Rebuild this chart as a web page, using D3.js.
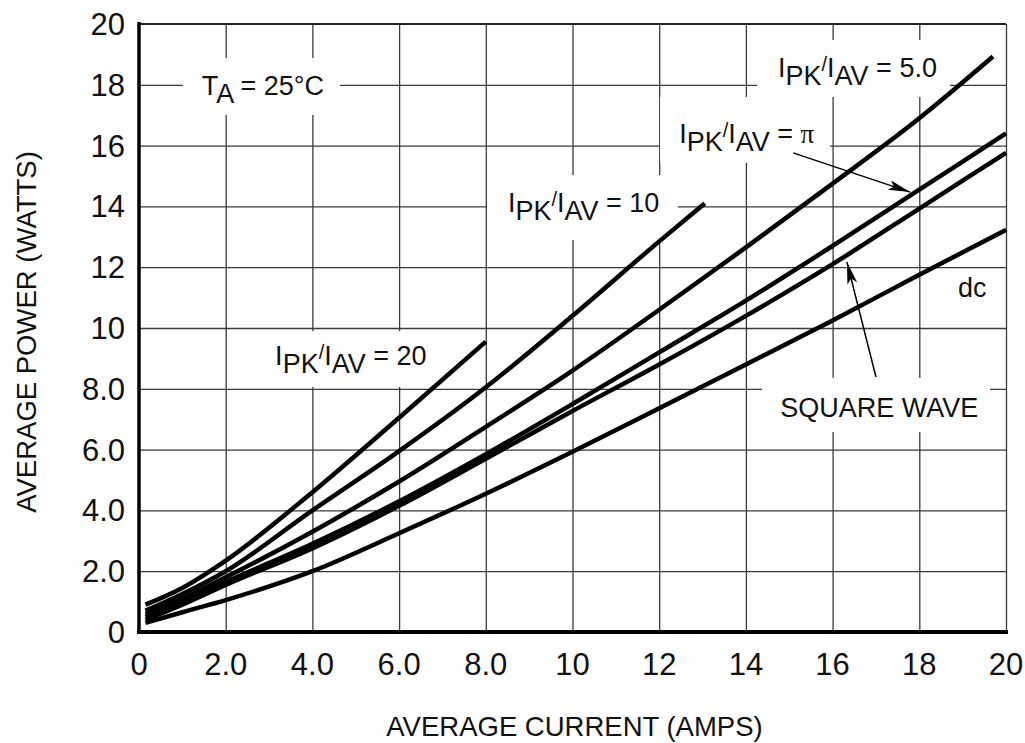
<!DOCTYPE html>
<html>
<head>
<meta charset="utf-8">
<script src="https://cdn.jsdelivr.net/npm/d3@7"></script>
<style>
  body { margin: 0; background: #fff; }
  text { font-family: "Liberation Sans", Arial, sans-serif; fill: #111; }
</style>
</head>
<body>
<svg id="chart" width="1025" height="743"></svg>
<script>
// average current (A) -> average power (W)
const tickValues = [0, 2, 4, 6, 8, 10, 12, 14, 16, 18, 20];

const ratio20Current = [0.15, 1, 2, 4, 6, 8];
const ratio20Power   = [0.9, 1.45, 2.35, 4.6, 7.05, 9.55];

const ratio10Current = [0.15, 1, 2, 4, 6, 8, 10, 12, 13.05];
const ratio10Power   = [0.7, 1.25, 2.0, 4.0, 5.95, 8.05, 10.4, 12.85, 14.1];

const ratio5Current = [0.15, 1, 2, 4, 6, 8, 10, 12, 14, 16, 18, 19.7];
const ratio5Power   = [0.6, 1.1, 1.8, 3.3, 4.95, 6.75, 8.6, 10.6, 12.65, 14.75, 16.9, 18.93];

const fullCurrent = [0.15, 1, 2, 4, 6, 8, 10, 12, 14, 16, 18, 20];
const ratioPiPower = [0.5, 1.0, 1.65, 2.9, 4.3, 5.85, 7.5, 9.2, 10.9, 12.7, 14.55, 16.4];
const squarePower  = [0.4, 0.9, 1.55, 2.75, 4.15, 5.7, 7.27, 8.8, 10.4, 12.1, 13.93, 15.76];
const dcPower      = [0.3, 0.65, 1.05, 2.0, 3.25, 4.55, 5.93, 7.36, 8.8, 10.25, 11.75, 13.23];

const series = [
  { current: ratio20Current, power: ratio20Power },
  { current: ratio10Current, power: ratio10Power },
  { current: ratio5Current,  power: ratio5Power },
  { current: fullCurrent,    power: ratioPiPower },
  { current: fullCurrent,    power: squarePower },
  { current: fullCurrent,    power: dcPower }
];

const svg = d3.select('#chart');
const width = +svg.attr('width');
const height = +svg.attr('height');
const margin = { left: 139, right: 19, top: 24, bottom: 111 };

// scales in page pixels, so every label can sit straight on the svg
const xScale = d3.scaleLinear().domain([0, 20]).range([margin.left, width - margin.right]);
const yScale = d3.scaleLinear().domain([0, 20]).range([height - margin.bottom, margin.top]);
const [x0, x1] = xScale.range();
const [y0, y1] = yScale.range();

const fmt = d => d === 0 ? '0' : d < 10 ? d.toFixed(1) : String(d);

// grid
const xGrid = svg.append('g')
  .attr('transform', `translate(0,${y0})`)
  .call(d3.axisBottom(xScale).tickValues(tickValues.slice(1)).tickSize(-(y0 - y1)).tickFormat(''));
const yGrid = svg.append('g')
  .attr('transform', `translate(${x0},0)`)
  .call(d3.axisLeft(yScale).tickValues(tickValues.slice(1, -1)).tickSize(-(x1 - x0)).tickFormat(''));
[xGrid, yGrid].forEach(a => {
  a.select('.domain').remove();
  a.selectAll('text').remove();
  a.selectAll('line').attr('stroke', '#3a3a3a').attr('stroke-width', 1.3);
});

// white patches behind the annotation text (these cut the grid)
const boxes = [
  [1.01, 4.64, 18.88, 17.01],
  [2.84, 7.06, 9.9, 8.06],
  [8.03, 12.43, 15.03, 12.89],
  [14.26, 18.71, 19.47, 17.6],
  [12.02, 15.94, 17.6, 15.43],
  [18.64, 19.7, 11.91, 10.76],
  [14.37, 19.63, 8.36, 6.58]
];
svg.append('g').selectAll('rect').data(boxes).join('rect')
  .attr('x', d => xScale(d[0]))
  .attr('y', d => yScale(d[2]))
  .attr('width', d => xScale(d[1]) - xScale(d[0]))
  .attr('height', d => yScale(d[3]) - yScale(d[2]))
  .attr('fill', '#fff');

// frame
svg.append('line').attr('x1', x0).attr('x2', x1).attr('y1', y1).attr('y2', y1)
  .attr('stroke', '#222').attr('stroke-width', 2);
svg.append('line').attr('x1', x0).attr('x2', x0).attr('y1', y1 - 2).attr('y2', y0 + 2)
  .attr('stroke', '#000').attr('stroke-width', 3.5);
svg.append('line').attr('x1', x0 - 2).attr('x2', x1 + 2).attr('y1', y0).attr('y2', y0)
  .attr('stroke', '#000').attr('stroke-width', 4);

// tick labels (narrow face, like the datasheet)
const tickFont = '"Liberation Sans Narrow", "Liberation Sans", Arial, sans-serif';
svg.append('g').selectAll('text').data(tickValues).join('text')
  .attr('x', d => xScale(d))
  .attr('y', y0 + 43)
  .attr('text-anchor', 'middle')
  .attr('font-family', tickFont)
  .attr('font-size', 31)
  .text(fmt);
svg.append('g').selectAll('text').data(tickValues).join('text')
  .attr('x', x0 - 14)
  .attr('y', d => yScale(d) + 11)
  .attr('text-anchor', 'end')
  .attr('font-family', tickFont)
  .attr('font-size', 31)
  .text(fmt);

// curves
const line = d3.line()
  .x(d => xScale(d[0]))
  .y(d => yScale(d[1]))
  .curve(d3.curveMonotoneX);

svg.append('g').selectAll('path').data(series).join('path')
  .attr('d', s => line(s.current.map((c, i) => [c, s.power[i]])))
  .attr('fill', 'none')
  .attr('stroke', '#000')
  .attr('stroke-width', 4.5);

// annotations
const sub = 8;
const ratioParts = value => [
  { t: 'I', dy: 0 },
  { t: 'PK', dy: sub },
  { t: '/', dy: -14, size: 20 },
  { t: 'I', dy: 6 },
  { t: 'AV', dy: sub },
  ...value
];
const notes = [
  { x: 1.45, y: 17.66, parts: [{ t: 'T', dy: 0 }, { t: 'A', dy: sub }, { t: ' = 25°C', dy: -sub }] },
  { x: 3.14, y: 8.78, parts: ratioParts([{ t: ' = 20', dy: -sub }]) },
  { x: 8.51, y: 13.82, parts: ratioParts([{ t: ' = 10', dy: -sub }]) },
  { x: 14.74, y: 18.26, parts: ratioParts([{ t: ' = 5.0', dy: -sub }]) },
  { x: 12.46, y: 16.09, parts: ratioParts([{ t: ' = ', dy: -sub }, { t: 'π', dy: 0, serif: true }]) },
  { x: 18.89, y: 11.02, parts: [{ t: 'dc', dy: 0 }] },
  { x: 14.79, y: 7.07, parts: [{ t: 'SQUARE WAVE', dy: 0 }] }
];

const noteText = svg.append('g').selectAll('text').data(notes).join('text')
  .attr('x', d => xScale(d.x))
  .attr('y', d => yScale(d.y))
  .attr('font-size', 27);
noteText.selectAll('tspan').data(d => d.parts).join('tspan')
  .attr('dy', p => p.dy)
  .attr('font-size', p => p.size || null)
  .attr('font-family', p => p.serif ? '"Liberation Serif", serif' : null)
  .text(p => p.t);

// arrows
svg.append('defs').append('marker')
  .attr('id', 'head')
  .attr('markerUnits', 'userSpaceOnUse')
  .attr('markerWidth', 24).attr('markerHeight', 12)
  .attr('refX', 22).attr('refY', 5)
  .attr('orient', 'auto')
  .append('path')
  .attr('d', 'M0,0L22,5L0,10L5,5z')
  .attr('fill', '#000');

const arrows = [
  [15.09, 15.76, 17.79, 14.47],
  [17.0, 8.39, 16.33, 12.17]
];
svg.append('g').selectAll('line').data(arrows).join('line')
  .attr('x1', d => xScale(d[0])).attr('y1', d => yScale(d[1]))
  .attr('x2', d => xScale(d[2])).attr('y2', d => yScale(d[3]))
  .attr('stroke', '#000').attr('stroke-width', 1.5)
  .attr('marker-end', 'url(#head)');

// axis titles
svg.append('text')
  .attr('x', (x0 + x1) / 2 + 2)
  .attr('y', 736)
  .attr('text-anchor', 'middle')
  .attr('font-size', 27.5)
  .text('AVERAGE CURRENT (AMPS)');

svg.append('text')
  .attr('transform', `translate(36,332) rotate(-90)`)
  .attr('text-anchor', 'middle')
  .attr('font-size', 27.5)
  .text('AVERAGE POWER (WATTS)');
</script>
</body>
</html>
